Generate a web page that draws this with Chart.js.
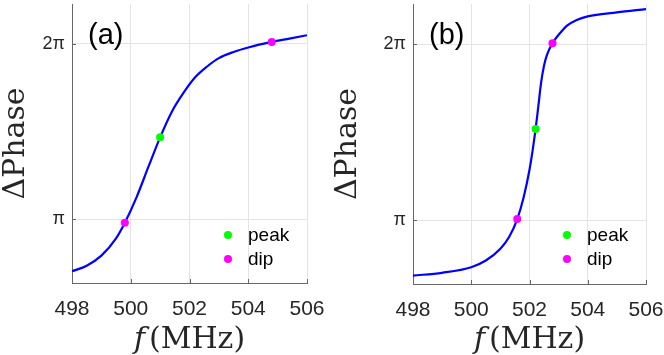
<!DOCTYPE html>
<html><head><meta charset="utf-8">
<script src="https://cdn.jsdelivr.net/npm/chart.js@4.4.0/dist/chart.umd.min.js"></script>
<style>
html,body{margin:0;padding:0;background:#fff;width:664px;height:355px;overflow:hidden}
canvas{position:absolute;top:0}
#ca{left:0}
#cb{left:332px}
</style></head><body>
<canvas id="ca" width="332" height="355"></canvas>
<canvas id="cb" width="332" height="355"></canvas>
<script>
// ---- data (frequency in MHz, phase in rad) ----
const freqA  = [498.0, 498.5, 499.0, 499.5, 499.8, 500.2, 500.6, 501.0, 501.4, 501.8, 502.2, 502.6, 503.0, 503.5, 504.0, 504.8, 505.4, 506.0];
const phaseA = [2.21, 2.31, 2.49, 2.80, 3.08, 3.54, 4.08, 4.61, 5.07, 5.41, 5.69, 5.88, 6.03, 6.14, 6.22, 6.32, 6.38, 6.44];
const peakFreqA  = [501.0];
const peakPhaseA = [4.61];
const dipFreqA   = [499.8, 504.8];
const dipPhaseA  = [3.08, 6.32];

const freqB  = [498.0, 499.0, 500.0, 500.5, 501.0, 501.3, 501.58, 501.8, 502.0, 502.1, 502.21, 502.3, 502.4, 502.5, 502.6, 502.79, 503.0, 503.3, 503.6, 504.0, 505.0, 506.0];
const phaseB = [2.15, 2.20, 2.30, 2.42, 2.63, 2.84, 3.16, 3.55, 4.04, 4.36, 4.77, 5.16, 5.60, 5.90, 6.09, 6.30, 6.45, 6.62, 6.71, 6.78, 6.85, 6.91];
const peakFreqB  = [502.21];
const peakPhaseB = [4.77];
const dipFreqB   = [501.58, 502.79];
const dipPhaseB  = [3.16, 6.30];

const xTickValues = [498, 500, 502, 504, 506];
const yTickValues = [Math.PI, 2 * Math.PI];
const yTickLabels = ['π', '2π'];
const legendLabels = ['peak', 'dip'];
const panelLabels = ['(a)', '(b)'];
const xMin = 498, xMax = 506, yMin = 2, yMax = 7;

function pts(xs, ys) { return xs.map((x, i) => ({ x: x, y: ys[i] })); }

const overlay = {
  id: 'overlay',
  afterDraw(chart, args, opts) {
    const ctx = chart.ctx, a = chart.chartArea;
    const xs = chart.scales.x, ys = chart.scales.y;
    ctx.save();
    // inward tick marks
    ctx.strokeStyle = '#666'; ctx.lineWidth = 1;
    ctx.beginPath();
    xs.ticks.forEach(t => {
      const px = Math.round(xs.getPixelForValue(t.value)) + 0.5;
      ctx.moveTo(px, a.bottom); ctx.lineTo(px, a.bottom - 4);
    });
    ys.ticks.forEach(t => {
      const py = Math.round(ys.getPixelForValue(t.value)) + 0.5;
      ctx.moveTo(a.left, py); ctx.lineTo(a.left + 4, py);
    });
    ctx.stroke();
    // panel label
    ctx.fillStyle = '#000';
    ctx.textAlign = 'left'; ctx.textBaseline = 'alphabetic';
    ctx.font = '29px "Liberation Sans"';
    ctx.fillText(opts.label, a.left + 16, 44);
    // legend
    const ds = chart.data.datasets;
    const items = [ds[1], ds[2]];
    ctx.font = '19px "Liberation Sans"';
    items.forEach((d, i) => {
      const cy = 235 + i * 24;
      ctx.fillStyle = d.backgroundColor;
      ctx.beginPath(); ctx.arc(a.right - 79, cy, 4, 0, Math.PI * 2); ctx.fill();
      ctx.fillStyle = '#000';
      ctx.fillText(d.label, a.right - 59, cy + 6);
    });
    // x axis title: italic f + (MHz)
    ctx.fillStyle = '#262626';
    ctx.font = 'italic 30px "DejaVu Serif"';
    const w1 = ctx.measureText('f').width;
    ctx.font = '30px "DejaVu Serif"';
    const w2 = ctx.measureText('(MHz)').width;
    const gap = 4;
    const cx = (a.left + a.right) / 2;
    const x0 = cx - (w1 + gap + w2) / 2;
    ctx.font = 'italic 30px "DejaVu Serif"';
    ctx.fillText('f', x0, 348);
    ctx.font = '30px "DejaVu Serif"';
    ctx.fillText('(MHz)', x0 + w1 + gap, 348);
    ctx.restore();
  }
};

function makeChart(id, label, freq, phase, pf, pp, df, dp, box) {
  const W = 332, H = 355;
  return new Chart(document.getElementById(id), {
    type: 'line',
    data: {
      datasets: [
        { label: 'phase', data: pts(freq, phase), borderColor: '#0000ff', borderWidth: 2.2,
          pointRadius: 0, fill: false, cubicInterpolationMode: 'monotone', order: 3 },
        { label: legendLabels[0], data: pts(pf, pp), showLine: false, pointRadius: 4,
          backgroundColor: '#00ff00', borderColor: '#00ff00', borderWidth: 0, order: 1 },
        { label: legendLabels[1], data: pts(df, dp), showLine: false, pointRadius: 4,
          backgroundColor: '#ff00ff', borderColor: '#ff00ff', borderWidth: 0, order: 2 }
      ]
    },
    options: {
      responsive: false, animation: false, events: [], devicePixelRatio: 1,
      layout: { padding: { left: 0, right: W - box.right, top: box.top, bottom: 0 } },
      plugins: { legend: { display: false }, tooltip: { enabled: false }, title: { display: false },
        overlay: { label: label } },
      scales: {
        x: {
          type: 'linear', min: xMin, max: xMax,
          afterBuildTicks: s => { s.ticks = xTickValues.map(v => ({ value: v })); },
          afterFit: s => { s.height = H - box.bottom; s.paddingLeft = 0; s.paddingRight = 0; },
          ticks: { padding: 14, color: '#262626', font: { family: 'Liberation Sans', size: 21 },
            callback: v => String(v), maxRotation: 0 },
          grid: { color: '#e4e4e4', drawTicks: false, lineWidth: 1 },
          border: { color: '#666', width: 1 }
        },
        y: {
          type: 'linear', min: yMin, max: yMax,
          afterBuildTicks: s => { s.ticks = yTickValues.map(v => ({ value: v })); },
          afterFit: s => { s.width = box.left; s.paddingTop = 0; s.paddingBottom = 0; },
          ticks: { padding: 7, color: '#262626', font: { family: 'Liberation Sans', size: 18 },
            callback: v => yTickLabels[yTickValues.indexOf(v)] },
          grid: { color: '#e4e4e4', drawTicks: false, lineWidth: 1 },
          border: { color: '#666', width: 1 },
          title: { display: true, text: 'ΔPhase', color: '#262626',
            font: { family: 'DejaVu Serif', size: 30, lineHeight: 1.1 }, padding: { top: 0, bottom: 0 } }
        }
      }
    },
    plugins: [overlay]
  });
}

makeChart('ca', panelLabels[0], freqA, phaseA, peakFreqA, peakPhaseA, dipFreqA, dipPhaseA,
  { left: 72, right: 307, top: 3, bottom: 283 });
makeChart('cb', panelLabels[1], freqB, phaseB, peakFreqB, peakPhaseB, dipFreqB, dipPhaseB,
  { left: 81, right: 314, top: 4, bottom: 284 });
</script>
</body></html>
